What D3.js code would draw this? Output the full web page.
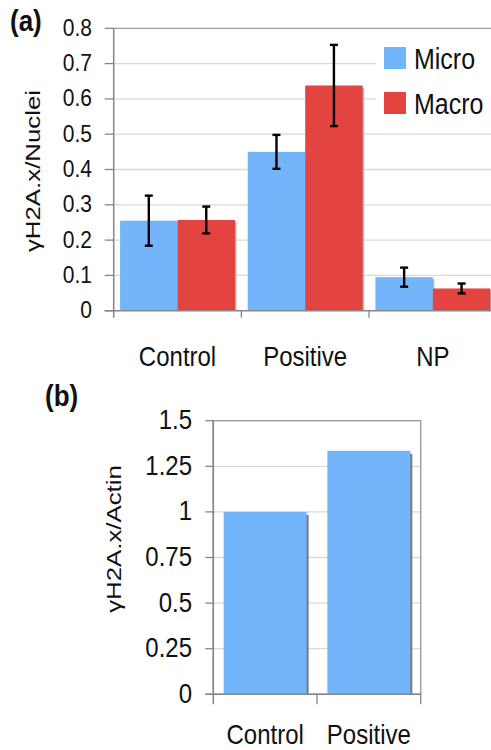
<!DOCTYPE html>
<html>
<head>
<meta charset="utf-8">
<script src="https://cdn.jsdelivr.net/npm/d3@7"></script>
<style>
  html, body { margin: 0; padding: 0; background: #fff; }
  svg { display: block; font-family: "Liberation Sans", Arial, sans-serif; }
</style>
</head>
<body>
<svg id="fig" width="491" height="750"></svg>
<script>
// Panel (a): gamma-H2A.x foci per nucleus
const groupsA = ["Control", "Positive", "NP"];
const seriesA = ["Micro", "Macro"];
const microVals = [0.255, 0.450, 0.095];
const macroVals = [0.257, 0.638, 0.063];
const microErr = [0.071, 0.048, 0.027];
const macroErr = [0.038, 0.115, 0.014];
const ticksA = [0, 0.1, 0.2, 0.3, 0.4, 0.5, 0.6, 0.7, 0.8];
const tickLabelsA = ["0", "0.1", "0.2", "0.3", "0.4", "0.5", "0.6", "0.7", "0.8"];

// Panel (b): gamma-H2A.x relative to actin (western blot)
const groupsB = ["Control", "Positive"];
const valsB = [1.0, 1.335];
const ticksB = [0, 0.25, 0.5, 0.75, 1, 1.25, 1.5];
const tickLabelsB = ["0", "0.25", "0.5", "0.75", "1", "1.25", "1.5"];

const colors = { Micro: "#72B5FA", Macro: "#E3443F" };
const GRID = "#D9D9D9", AXIS = "#868686", BORDER = "#A0A0A0";
const SY = 1.18; // vertical stretch applied to lettering

const svg = d3.select("#fig");

function label(g, x, y, txt, o) {
  o = o || {};
  const t = g.append("text")
    .attr("transform", `translate(${x},${y}) scale(1,${o.sy || SY})` + (o.rotate ? " rotate(-90)" : ""))
    .attr("text-anchor", o.anchor || "start")
    .attr("font-size", o.size || 20)
    .attr("font-weight", o.weight || "normal")
    .attr("fill", "#111")
    .text(txt);
  return t;
}

// ---------- Panel (a) ----------
{
  const L = 113.7, T = 28.3, B = 310.7, R = 496.7;
  const g = svg.append("g");
  const x0 = d3.scaleBand().domain(groupsA).range([L, R]).paddingInner(0.1).paddingOuter(0.05);
  const x1 = d3.scaleBand().domain(seriesA).range([0, x0.bandwidth()]);
  const y = d3.scaleLinear().domain([0, 0.8]).range([B, T]);

  // gridlines
  g.append("g").selectAll("line").data(ticksA.filter(d => d > 0)).join("line")
    .attr("x1", L).attr("x2", 491).attr("y1", d => y(d)).attr("y2", d => y(d))
    .attr("stroke", d => d === 0.8 ? BORDER : GRID).attr("stroke-width", 1.3);

  // legend background
  g.append("rect").attr("x", 376).attr("y", 36).attr("width", 115).attr("height", 86).attr("fill", "#fff");

  const rows = groupsA.flatMap((c, i) => [
    { c, s: "Micro", v: microVals[i], e: microErr[i] },
    { c, s: "Macro", v: macroVals[i], e: macroErr[i] }
  ]);
  const bx = d => x0(d.c) + x1(d.s);

  // soft shadows on bar right edges
  g.append("g").selectAll("rect").data(rows).join("rect")
    .attr("x", d => bx(d) + 1.5).attr("y", d => y(d.v) + 2)
    .attr("width", x1.bandwidth()).attr("height", d => B - y(d.v) - 2)
    .attr("fill", "#B8B8B8");
  g.append("g").selectAll("rect").data(rows).join("rect")
    .attr("x", bx).attr("y", d => y(d.v))
    .attr("width", x1.bandwidth()).attr("height", d => B - y(d.v))
    .attr("fill", d => colors[d.s]);

  // error bars
  const eg = g.append("g").attr("stroke", "#000").attr("stroke-width", 2.4);
  rows.forEach(d => {
    const cx = bx(d) + x1.bandwidth() / 2;
    eg.append("line").attr("x1", cx).attr("x2", cx).attr("y1", y(d.v + d.e)).attr("y2", y(d.v - d.e));
    [d.v + d.e, d.v - d.e].forEach(v =>
      eg.append("line").attr("x1", cx - 4).attr("x2", cx + 4).attr("y1", y(v)).attr("y2", y(v)));
  });

  // axes
  g.append("line").attr("x1", L).attr("x2", L).attr("y1", T).attr("y2", B + 7)
    .attr("stroke", AXIS).attr("stroke-width", 1.5);
  g.append("line").attr("x1", L - 9).attr("x2", 491).attr("y1", B).attr("y2", B)
    .attr("stroke", AXIS).attr("stroke-width", 1.5);
  g.append("g").selectAll("line").data(ticksA).join("line")
    .attr("x1", L - 9).attr("x2", L).attr("y1", d => y(d)).attr("y2", d => y(d))
    .attr("stroke", AXIS).attr("stroke-width", 1.3);
  g.append("g").selectAll("line").data(groupsA.slice(1)).join("line")
    .attr("x1", d => x0(d) - x0.step() * 0.05).attr("x2", d => x0(d) - x0.step() * 0.05)
    .attr("y1", B).attr("y2", B + 7).attr("stroke", AXIS).attr("stroke-width", 1.3);

  ticksA.forEach((t, i) => label(g, 92, y(t) + 7.5, tickLabelsA[i], { size: 21, anchor: "end" }));
  groupsA.forEach(c => label(g, x0(c) + x0.bandwidth() / 2, 366, c, { size: 24, anchor: "middle" }));

  label(g, 40, 171, "\u03B3H2A.x/Nuclei", { size: 21, anchor: "middle", rotate: true, sy: 1.23 });
  label(g, 10, 31, "(a)", { size: 26, weight: "bold", sy: 1.12 });

  // legend
  seriesA.forEach((s, i) => {
    const ly = 47 + i * 45;
    g.append("rect").attr("x", 384).attr("y", ly).attr("width", 22).attr("height", 22).attr("fill", colors[s]);
    label(g, 414, ly + 22, s, { size: 25, sy: 1.17 });
  });
}

// ---------- Panel (b) ----------
{
  const L = 213.3, T = 420.7, B = 694.3, R = 420.7;
  const g = svg.append("g");
  const x = d3.scaleBand().domain(groupsB).range([L, R]).paddingInner(0.2).paddingOuter(0.1);
  const y = d3.scaleLinear().domain([0, 1.5]).range([B, T]);

  g.append("g").selectAll("line").data(ticksB.filter(d => d > 0 && d < 1.5)).join("line")
    .attr("x1", L).attr("x2", R).attr("y1", d => y(d)).attr("y2", d => y(d))
    .attr("stroke", GRID).attr("stroke-width", 1.3);
  g.append("rect").attr("x", L).attr("y", T).attr("width", R - L).attr("height", B - T)
    .attr("fill", "none").attr("stroke", BORDER).attr("stroke-width", 1.5);

  g.append("g").selectAll("rect").data(groupsB).join("rect")
    .attr("x", d => x(d) + 2).attr("y", (d, i) => y(valsB[i]) + 3)
    .attr("width", x.bandwidth()).attr("height", (d, i) => B - y(valsB[i]) - 3)
    .attr("fill", "#7A7A7A");
  g.append("g").selectAll("rect").data(groupsB).join("rect")
    .attr("x", d => x(d)).attr("y", (d, i) => y(valsB[i]))
    .attr("width", x.bandwidth()).attr("height", (d, i) => B - y(valsB[i]))
    .attr("fill", colors.Micro);

  g.append("line").attr("x1", L).attr("x2", L).attr("y1", T).attr("y2", B + 10)
    .attr("stroke", AXIS).attr("stroke-width", 1.5);
  g.append("line").attr("x1", L - 8).attr("x2", R).attr("y1", B).attr("y2", B)
    .attr("stroke", AXIS).attr("stroke-width", 1.5);
  g.append("g").selectAll("line").data(ticksB).join("line")
    .attr("x1", L - 8).attr("x2", L).attr("y1", d => y(d)).attr("y2", d => y(d))
    .attr("stroke", AXIS).attr("stroke-width", 1.3);
  g.append("g").selectAll("line").data([x(groupsB[1]) - x.step() * 0.1, R]).join("line")
    .attr("x1", d => d).attr("x2", d => d).attr("y1", B).attr("y2", B + 10)
    .attr("stroke", AXIS).attr("stroke-width", 1.3);

  ticksB.forEach((t, i) => label(g, 192, y(t) + 8.5, tickLabelsB[i], { size: 24, anchor: "end" }));
  groupsB.forEach(c => label(g, x(c) + x.bandwidth() / 2, 744, c, { size: 24, anchor: "middle", sy: 1.15 }));

  label(g, 121, 539, "\u03B3H2A.x/Actin", { size: 20.5, anchor: "middle", rotate: true, sy: 1.26 });
  label(g, 45, 406, "(b)", { size: 26, weight: "bold", sy: 1.12 });
}
</script>
</body>
</html>
